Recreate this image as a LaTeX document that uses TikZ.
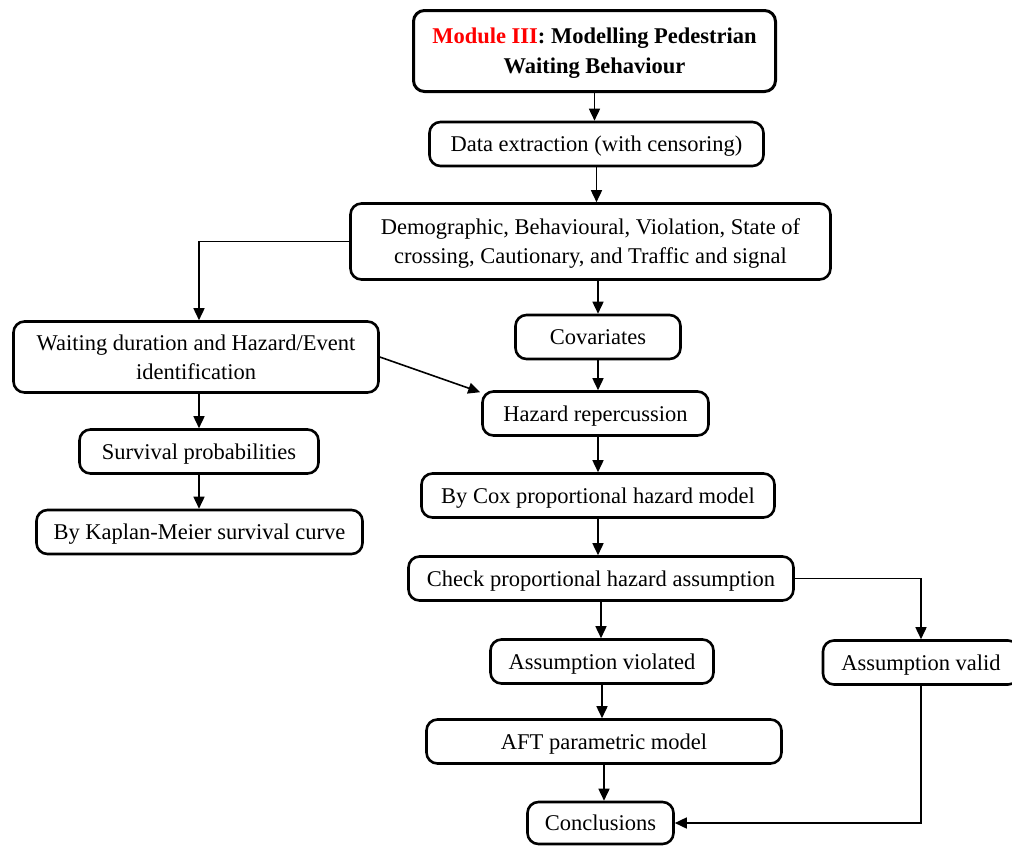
\documentclass[tikz,border=0pt]{standalone}
\usepackage{fontspec}
\setmainfont{Liberation Serif}[Ligatures=TeX]
\usetikzlibrary{arrows.meta,calc}
\begin{document}
\begin{tikzpicture}[x=1pt,y=-1pt,
  box/.style={draw, line width=2.6pt, rounded corners=11pt, inner sep=0pt,
    align=center, font=\rmfamily\fontsize{22.5}{29}\selectfont},
  one/.style={box, text height=16pt, text depth=1pt},
  two/.style={box, text depth=0pt},
  link/.style={line width=1.6pt, -{Triangle[length=12pt,width=11pt]}}]
\path[use as bounding box, clip] (0,0) rectangle (1012,846);

% boxes
\node[two, line width=3pt, minimum width=362pt, minimum height=81pt,
  font=\rmfamily\bfseries\fontsize{22.5}{30}\selectfont] (mod) at (594.5,51)
  {\textcolor{red}{Module III}: Modelling Pedestrian\\Waiting Behaviour};
\node[one, minimum width=334pt, minimum height=44pt] (data) at (596.5,144)
  {Data extraction (with censoring)};
\node[two, minimum width=480pt, minimum height=76pt] (demo) at (590.5,241.5)
  {Demographic, Behavioural, Violation, State of\\crossing, Cautionary, and Traffic and signal};
\node[two, minimum width=365pt, minimum height=71pt] (wait) at (196,357)
  {Waiting duration and Hazard/Event\\identification};
\node[one, minimum width=165pt, minimum height=44pt] (cov) at (598,337)
  {Covariates};
\node[one, minimum width=226pt, minimum height=44pt] (haz) at (595.5,413.5)
  {Hazard repercussion};
\node[one, minimum width=239pt, minimum height=44pt] (surv) at (199,451.5)
  {Survival probabilities};
\node[one, minimum width=326pt, minimum height=44pt] (km) at (199.5,532)
  {By Kaplan-Meier survival curve};
\node[one, minimum width=353pt, minimum height=44pt] (cox) at (598,495.5)
  {By Cox proportional hazard model};
\node[one, minimum width=385pt, minimum height=44pt] (check) at (601,578.5)
  {Check proportional hazard assumption};
\node[one, minimum width=223pt, minimum height=44pt] (viol) at (602,661.5)
  {Assumption violated};
\node[one, minimum width=196pt, minimum height=44pt] (valid) at (921,662.5)
  {Assumption valid};
\node[one, minimum width=355pt, minimum height=44pt] (aft) at (604,741.5)
  {AFT parametric model};
\node[one, minimum width=146pt, minimum height=42pt] (conc) at (600.5,823)
  {Conclusions};

% connectors
\draw[link] (mod.south) -- (mod.south |- data.north);
\draw[link] (data.south) -- (data.south |- demo.north);
\draw[link] (demo.west) -| (surv.north |- wait.north);
\draw[link] (cov.north |- demo.south) -- (cov.north);
\draw[link] (cov.south) -- (cov.south |- haz.north);
\draw[link] (wait.east) -- ($(haz.north west)+(-1,2)$);
\draw[link] (surv.north |- wait.south) -- (surv.north);
\draw[link] (surv.south) -- (surv.south |- km.north);
\draw[link] (cox.north |- haz.south) -- (cox.north);
\draw[link] (cox.south) -- (cox.south |- check.north);
\draw[link] (check.south) -- (check.south |- viol.north);
\draw[link] (check.east) -| (valid.north);
\draw[link] (viol.south) -- (viol.south |- aft.north);
\draw[link] (aft.south) -- (aft.south |- conc.north);
\draw[link] (valid.south) |- (conc.east);
\end{tikzpicture}
\end{document}
